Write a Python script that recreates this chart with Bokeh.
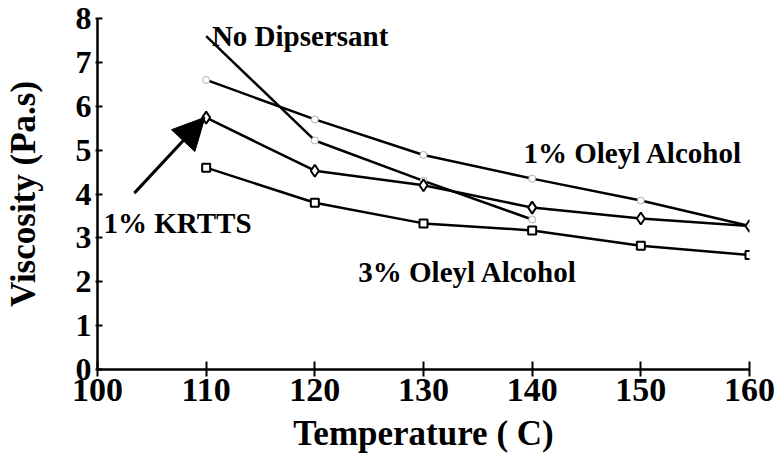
from bokeh.plotting import figure
from bokeh.models import Arrow, NormalHead, Range1d, FixedTicker, Label
from bokeh.embed import file_html
from bokeh.resources import INLINE

# ---- data ----
temps = [110, 120, 130, 140, 150, 160]
oleyl_1pct = [6.60, 5.70, 4.89, 4.35, 3.85, 3.27]
krtts_1pct = [5.74, 4.53, 4.20, 3.69, 3.44, 3.27]
oleyl_3pct = [4.60, 3.80, 3.33, 3.17, 2.82, 2.61]
nodisp_temps = [110, 120, 130, 140]
no_dispersant = [7.60, 5.22, 4.30, 3.42]

x_ticks = [100, 110, 120, 130, 140, 150, 160]
y_ticks = [0, 1, 2, 3, 4, 5, 6, 7, 8]

FONT = "Liberation Serif"

p = figure(width=778, height=455, output_backend="svg", toolbar_location=None,
           x_range=Range1d(100, 160), y_range=Range1d(0, 8),
           min_border_left=94, min_border_right=29, min_border_top=18, min_border_bottom=85)
p.outline_line_color = None
p.grid.visible = False
p.background_fill_color = "white"

for ax in (p.xaxis[0], p.yaxis[0]):
    ax.axis_line_width = 2.5
    ax.axis_line_color = "black"
    ax.major_tick_line_width = 2
    ax.major_tick_line_color = "black"
    ax.minor_tick_line_color = None
    ax.major_label_text_font = FONT
    ax.major_label_text_font_style = "bold"
    ax.major_label_text_color = "black"
    ax.axis_label_text_font = FONT
    ax.axis_label_text_font_style = "bold"
    ax.axis_label_text_font_size = "35px"
    ax.axis_label_text_color = "black"

p.xaxis.major_label_text_font_size = "34px"
p.yaxis.major_label_text_font_size = "32px"
p.xaxis.ticker = FixedTicker(ticks=x_ticks)
p.yaxis.ticker = FixedTicker(ticks=y_ticks)
p.xaxis.major_tick_in = 8
p.xaxis.major_tick_out = 7
p.yaxis.major_tick_in = 5
p.yaxis.major_tick_out = 2
p.xaxis.major_label_standoff = 2
p.yaxis.major_label_standoff = 4
p.xaxis.axis_label = "Temperature ( C)"
p.yaxis.axis_label = "Viscosity (Pa.s)"
p.xaxis.axis_label_standoff = 10
p.yaxis.axis_label_standoff = 30

LW = 2.5
# No dispersant
p.line(nodisp_temps, no_dispersant, line_color="black", line_width=LW)
p.scatter(nodisp_temps[1:], no_dispersant[1:], marker="circle", size=7,
          fill_color="white", line_color="#999999", line_width=0.8)
# 1% oleyl alcohol
p.line(temps, oleyl_1pct, line_color="black", line_width=LW)
p.scatter(temps, oleyl_1pct, marker="circle", size=7,
          fill_color="white", line_color="#999999", line_width=0.8)
# 1% KRTTS
p.line(temps, krtts_1pct, line_color="black", line_width=LW)
p.scatter(temps, krtts_1pct, marker="diamond", size=12,
          fill_color="white", line_color="black", line_width=2)
# 3% oleyl alcohol
p.line(temps, oleyl_3pct, line_color="black", line_width=LW)
p.scatter(temps, oleyl_3pct, marker="square", size=8,
          fill_color="white", line_color="black", line_width=2)

# series labels
label_specs = [
    ("No Dipsersant", 110.53, 7.61),
    ("1% Oleyl Alcohol", 139.2, 4.93),
    ("3% Oleyl Alcohol", 124.0, 2.23),
    ("1% KRTTS", 100.55, 3.34),
]
for txt, lx, ly in label_specs:
    p.add_layout(Label(x=lx, y=ly, text=txt, text_font=FONT, text_font_style="bold",
                       text_font_size="29px", text_color="black",
                       text_baseline="alphabetic", text_align="left"))

# arrow pointing at the 1% KRTTS curve
p.add_layout(Arrow(x_start=103.39, y_start=4.02, x_end=109.89, y_end=5.75,
                   line_width=3, line_color="black",
                   end=NormalHead(size=32, fill_color="black", line_color="black")))

open("out.html", "w").write(file_html(p, INLINE))
